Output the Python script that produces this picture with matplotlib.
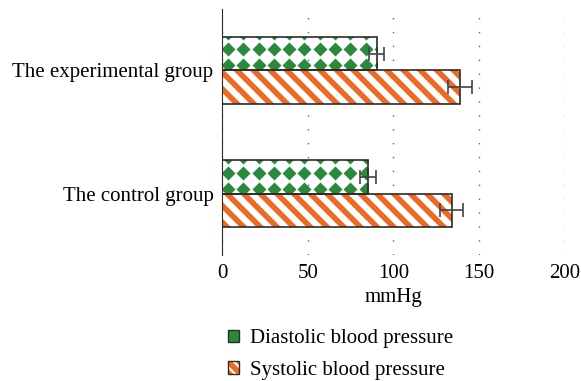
import matplotlib
matplotlib.use('Agg')
import matplotlib.pyplot as plt
import numpy as np
from matplotlib.patches import Patch
from matplotlib.legend_handler import HandlerTuple
from matplotlib import rcParams
rcParams.update({'font.family': 'Liberation Serif', 'font.size': 15, 'hatch.linewidth': 4.0})

groups = ['The control group', 'The experimental group']
diastolic = [85.3, 90.4]
diastolic_err = [4.5, 4.4]
systolic = [134.0, 138.8]
systolic_err = [6.7, 7.0]
series = ['Diastolic blood pressure', 'Systolic blood pressure']

green = '#2A8A3C'
orange = '#EE6A24'
edge = '#2b2b2b'

fig = plt.figure(figsize=(5.81, 3.81), dpi=100)
ax = fig.add_axes([0.382, 0.33, 0.59, 0.647])

y = np.arange(len(groups))
h = 0.27
ax.set_xlim(0, 200)
ax.set_ylim(-0.5, 1.5)

# systolic: orange stripes
ax.barh(y - h/2, systolic, height=h, color='white', edgecolor=orange, hatch='\\\\', lw=0, zorder=2)
ax.barh(y - h/2, systolic, height=h, fill=False, edgecolor=edge, lw=1.2, zorder=3)

# diastolic: green diamond pattern
dbars = ax.barh(y + h/2, diastolic, height=h, color='none', edgecolor=edge, lw=1.2, zorder=3)
px_x = (ax.transData.transform((1, 0))[0] - ax.transData.transform((0, 0))[0])
px_y = (ax.transData.transform((0, 1))[1] - ax.transData.transform((0, 0))[1])
for i, b in enumerate(dbars):
    xs = np.arange(6 / px_x, diastolic[i] + 16 / px_x, 15.3 / px_x)
    ys = y[i] + h/2 - np.array([-20.5, -4.5, 11.5]) / px_y
    gx, gy = np.meshgrid(xs, ys)
    pts, = ax.plot(gx.ravel(), gy.ravel(), 'D', ms=7.5, color=green, mec='none', zorder=2)
    pts.set_clip_path(b)

ax.errorbar(diastolic, y + h/2, xerr=diastolic_err, fmt='none', ecolor='#444444', elinewidth=1.2, capsize=5, capthick=1.2, zorder=4)
ax.errorbar(systolic, y - h/2, xerr=systolic_err, fmt='none', ecolor='#444444', elinewidth=1.2, capsize=5, capthick=1.2, zorder=4)

ax.set_yticks(y)
ax.set_yticklabels(groups)
ax.set_xticks([0, 50, 100, 150, 200])
ax.tick_params(axis='x', length=0, pad=6)
ax.tick_params(axis='y', length=0, pad=6)
ax.set_xlabel('mmHg', labelpad=4)
for s in ['top', 'right', 'bottom']:
    ax.spines[s].set_visible(False)
ax.spines['left'].set_color(edge)
ax.xaxis.grid(True, linestyle=(0, (1, 9)), color='#666666', lw=1)
ax.set_axisbelow(True)

h1 = (Patch(facecolor=green, edgecolor='none'), Patch(fill=False, edgecolor=edge, lw=1))
h2 = (Patch(facecolor='white', edgecolor=orange, hatch='\\\\\\', lw=0), Patch(fill=False, edgecolor=edge, lw=1))
fig.legend([h1, h2], series, handler_map={tuple: HandlerTuple(ndivide=1, pad=0)},
           loc='upper left', bbox_to_anchor=(0.36, 0.185), frameon=False,
           handlelength=0.55, handleheight=0.55, handletextpad=0.52, labelspacing=0.6)

plt.savefig('out.png', dpi=100)
